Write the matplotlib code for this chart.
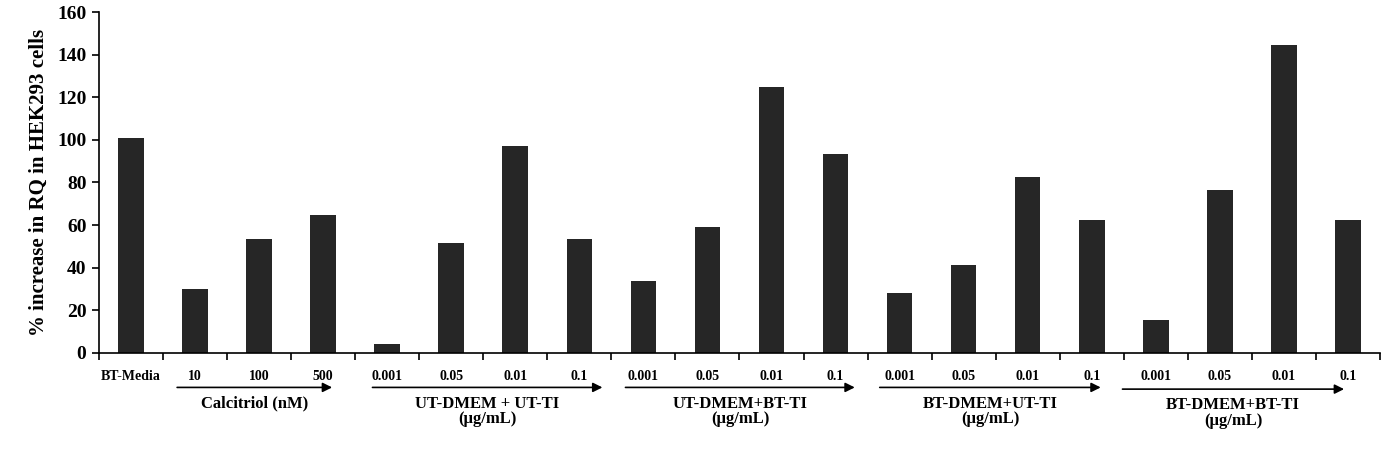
import matplotlib
matplotlib.use("Agg")
import matplotlib.pyplot as plt
import numpy as np

# data
categories = ["BT-Media", "10", "100", "500",
              "0.001", "0.05", "0.01", "0.1",
              "0.001", "0.05", "0.01", "0.1",
              "0.001", "0.05", "0.01", "0.1",
              "0.001", "0.05", "0.01", "0.1"]
values = [101, 30, 53.5, 64.8,
          4.2, 51.6, 97, 53.5,
          33.8, 59, 124.8, 93.4,
          28, 41.3, 82.6, 62.4,
          15.5, 76.5, 144.5, 62.4]
group_labels = ["Calcitriol (nM)", "UT-DMEM + UT-TI\n(\u00b5g/mL)", "UT-DMEM+BT-TI\n(\u00b5g/mL)",
                "BT-DMEM+UT-TI\n(\u00b5g/mL)", "BT-DMEM+BT-TI\n(\u00b5g/mL)"]
yticks = [0, 20, 40, 60, 80, 100, 120, 140, 160]

# arrow extents under the axis (x in data units)
arrow_start = [0.72, 3.77, 7.72, 11.69, 15.48]
arrow_end = [3.14, 7.36, 11.3, 15.14, 18.94]
arrow_y = [-0.101, -0.101, -0.101, -0.101, -0.106]
label_y = [-0.125, -0.125, -0.125, -0.125, -0.13]

plt.rcParams['font.family'] = ['Liberation Serif', 'DejaVu Serif']
plt.rcParams['font.weight'] = 'bold'

fig = plt.figure(figsize=(13.96, 4.53), dpi=100)
ax = fig.add_axes([0.0709, 0.2208, 0.9176, 0.7527])

x = np.arange(len(categories))
ax.bar(x, values, width=0.4, color='#262626')

ax.set_xlim(-0.5, len(categories) - 0.5)
ax.set_ylim(0, 160)
ax.set_yticks(yticks)
ax.set_yticklabels([str(t) for t in yticks], fontsize=14, fontweight='bold')
ax.set_ylabel("% increase in RQ in HEK293 cells", fontsize=15, fontweight='bold', labelpad=6)

ax.set_xticks(x)
ax.set_xticklabels(categories, fontsize=10, fontweight='bold')
ax.set_xticks(np.arange(-0.5, len(categories)), minor=True)
ax.tick_params(axis='x', which='major', length=0, pad=12)
ax.tick_params(axis='x', which='minor', length=5, width=1.2, direction='out')
ax.tick_params(axis='y', length=5, width=1.2, direction='out', pad=4)

for s in ['top', 'right']:
    ax.spines[s].set_visible(False)
for s in ['left', 'bottom']:
    ax.spines[s].set_linewidth(1.2)

# group arrows and labels
trans = ax.get_xaxis_transform()
for x0, x1, ya, yl, lab in zip(arrow_start, arrow_end, arrow_y, label_y, group_labels):
    ax.annotate("", xy=(x1, ya), xytext=(x0, ya), xycoords=trans, textcoords=trans,
                arrowprops=dict(arrowstyle='-|>', lw=1.2, color='black', mutation_scale=14,
                                shrinkA=0, shrinkB=0),
                annotation_clip=False)
    ax.text((x0 + x1) / 2, yl, lab, transform=trans, ha='center', va='top',
            fontsize=12, fontweight='bold', linespacing=0.95)

fig.savefig("out.png", dpi=100)
